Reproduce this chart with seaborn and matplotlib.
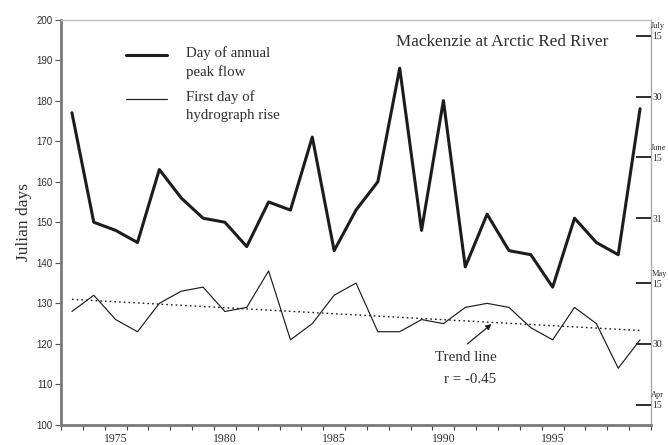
import numpy as np
import pandas as pd
import matplotlib
matplotlib.use("Agg")
import matplotlib.pyplot as plt
from matplotlib.ticker import FixedLocator, NullFormatter
from matplotlib.legend_handler import HandlerLine2D
import seaborn as sns

# Mackenzie River at Arctic Red River, timing of spring runoff (Julian day)
years = list(range(1973, 2000))
peak_flow_day = [177, 150, 148, 145, 163, 156, 151, 150, 144, 155, 153, 171, 143, 153,
                 160, 188, 148, 180, 139, 152, 143, 142, 134, 151, 145, 142, 178]
rise_day = [128, 132, 126, 123, 130, 133, 134, 128, 129, 138, 121, 125, 132, 135,
            123, 123, 126, 125, 129, 130, 129, 124, 121, 129, 125, 114, 121]

year_labels = [1975, 1980, 1985, 1990, 1995]
julian_ticks = list(range(100, 201, 10))
calendar_ticks = [105, 120, 135, 151, 166, 181, 196]
calendar_days = ["15", "30", "15", "31", "15", "30", "15"]
calendar_months = ["Apr", "", "May", "", "June", "", "July"]

df = pd.DataFrame({"year": years, "peak": peak_flow_day, "rise": rise_day})

sns.set_theme(style="ticks")
plt.rcParams["font.family"] = ["Liberation Serif", "DejaVu Serif"]

SERIF = "Liberation Serif"
SANS = "Liberation Sans"
INK = "#1c1c1c"
TEXT = "#2e2e2e"


class FirstLineHandler(HandlerLine2D):
    """Legend key drawn level with the first line of a two-line label."""

    def __init__(self, lift, **kw):
        super().__init__(**kw)
        self.lift = lift

    def create_artists(self, legend, orig_handle, xdescent, ydescent,
                       width, height, fontsize, trans):
        artists = super().create_artists(legend, orig_handle, xdescent, ydescent,
                                         width, height, fontsize, trans)
        for a in artists:
            a.set_ydata(np.asarray(a.get_ydata(), dtype=float) + self.lift * fontsize)
        return artists


fig = plt.figure(figsize=(6.68, 4.45), dpi=100)
ax = fig.add_axes([61 / 668, 1 - 425 / 445, (651 - 61) / 668, (425 - 19.5) / 445])

sns.lineplot(data=df, x="year", y="peak", ax=ax, color=INK, lw=2.2,
             label="Day of annual\npeak flow")
sns.lineplot(data=df, x="year", y="rise", ax=ax, color=INK, lw=0.85,
             label="First day of\nhydrograph rise")
sns.regplot(data=df, x="year", y="rise", ax=ax, scatter=False, ci=None,
            line_kws=dict(color=INK, lw=1.0, ls=(0, (1.2, 2.2))))

ax.set_xlim(years[0] - 0.5, years[-1] + 0.5)
ax.set_ylim(100, 200)

# x axis: ticks on year boundaries, labels centred on every fifth year
ax.xaxis.set_major_locator(FixedLocator(year_labels))
ax.set_xticklabels([str(y) for y in year_labels])
ax.xaxis.set_minor_locator(FixedLocator(np.arange(years[0] - 0.5, years[-1] + 1.0, 1.0)))
ax.xaxis.set_minor_formatter(NullFormatter())
ax.tick_params(axis="x", which="major", length=0, pad=6, labelsize=8.5, labelcolor=TEXT)
ax.tick_params(axis="x", which="minor", length=3.5, width=0.8, color="#444444", direction="out")
for lab in ax.get_xticklabels():
    lab.set_fontfamily(SERIF)

ax.set_yticks(julian_ticks)
ax.tick_params(axis="y", length=4, width=0.8, color="#555555", pad=2,
               labelsize=7, labelcolor=TEXT)
for lab in ax.get_yticklabels():
    lab.set_fontfamily(SANS)

ax.set_xlabel("")
ax.set_ylabel("Julian days", fontsize=12.5, family=SERIF, color=TEXT, labelpad=3)

for side, col, w in [("left", "#7a7a7a", 2.0), ("bottom", "#7a7a7a", 2.0),
                     ("top", "#bdbdbd", 1.0), ("right", "#a8a8a8", 1.0)]:
    ax.spines[side].set_visible(True)
    ax.spines[side].set_color(col)
    ax.spines[side].set_linewidth(w)

# calendar dates on the right-hand side
ax2 = ax.twinx()
ax2.set_ylim(100, 200)
ax2.set_yticks(calendar_ticks)
ax2.set_yticklabels(calendar_days)
ax2.tick_params(axis="y", direction="in", length=11, width=1.3, color=INK, pad=1,
                labelsize=7, labelcolor=TEXT)
for lab in ax2.get_yticklabels():
    lab.set_fontfamily(SERIF)
for s in ax2.spines.values():
    s.set_visible(False)
trans = ax2.get_yaxis_transform()
for v, m in zip(calendar_ticks, calendar_months):
    if m:
        ax2.text(1.0005, v + 1.3, m, transform=trans, ha="left", va="bottom",
                 fontsize=6.0, family=SERIF, color=TEXT, clip_on=False)

handles, labels = ax.get_legend_handles_labels()
leg = ax.legend(handles[:2], labels[:2], loc="upper left",
                bbox_to_anchor=(0.088, 0.967), frameon=False,
                handlelength=2.75, handletextpad=1.3, labelspacing=0.8,
                prop=dict(family=SERIF, size=10.7),
                handler_map={h: FirstLineHandler(0.5) for h in handles[:2]})
for t in leg.get_texts():
    t.set_color(TEXT)
    t.set_linespacing(1.45)

ax.text(0.927, 0.945, "Mackenzie at Arctic Red River", transform=ax.transAxes,
        ha="right", va="center", fontsize=12.3, family=SERIF, color=TEXT)

# trend-line callout
ax.annotate("", xy=(1992.2, 124.9), xytext=(1991.1, 120.0),
            arrowprops=dict(arrowstyle="-|>", color=INK, lw=0.9, mutation_scale=8,
                            shrinkA=0, shrinkB=0))
ax.text(1991.05, 116.6, "Trend line", ha="center", va="center",
        fontsize=10.8, family=SERIF, color=TEXT)
ax.text(1991.2, 111.1, "r = -0.45", ha="center", va="center",
        fontsize=10.8, family=SERIF, color=TEXT)

fig.savefig("out.png", dpi=100)
